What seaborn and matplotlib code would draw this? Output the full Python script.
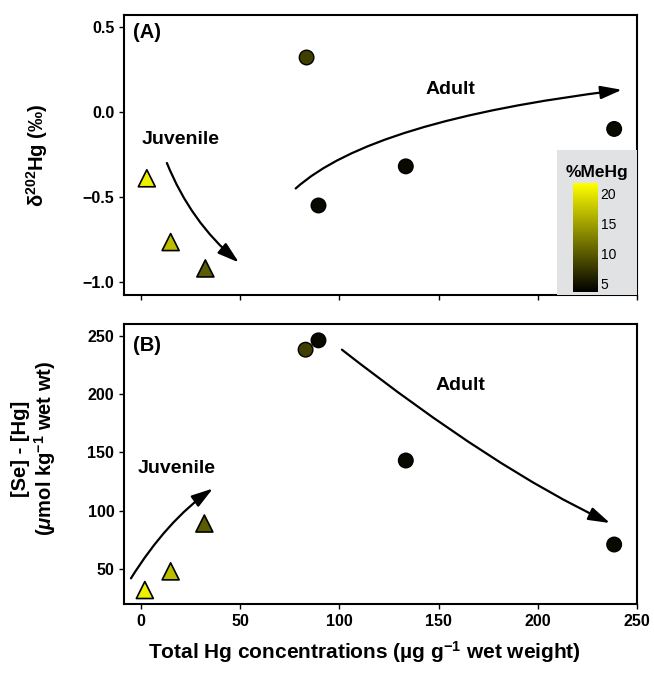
import numpy as np
import pandas as pd
import seaborn as sns
import matplotlib.pyplot as plt
from matplotlib.colors import LinearSegmentedColormap, Normalize
from matplotlib.cm import ScalarMappable
from matplotlib.patches import Rectangle

sns.set_style("ticks")
plt.rcParams["font.family"] = ["Liberation Sans", "DejaVu Sans"]
plt.rcParams["mathtext.fontset"] = "custom"
plt.rcParams["mathtext.rm"] = "Liberation Sans:bold"
plt.rcParams["mathtext.bf"] = "Liberation Sans:bold"
plt.rcParams["mathtext.it"] = "Liberation Sans:bold:italic"
plt.rcParams["mathtext.default"] = "bf"
for k in ["text.color", "axes.labelcolor", "xtick.color", "ytick.color", "axes.edgecolor"]:
    plt.rcParams[k] = "black"

# data
stage = ["Juvenile", "Juvenile", "Juvenile", "Adult", "Adult", "Adult", "Adult"]
thg = [3, 15, 32.5, 83.5, 89.5, 133.5, 238.5]
d202 = [-0.39, -0.765, -0.92, 0.32, -0.55, -0.32, -0.10]
thg_b = [2, 15, 32, 83, 89.5, 133.5, 238.5]
se_hg = [32, 48, 89, 238, 246, 143, 71]
mehg = [20.5, 17, 10, 8, 4.2, 4.2, 4.2]

df = pd.DataFrame({"stage": stage, "thg": thg, "d202": d202,
                   "thg_b": thg_b, "se_hg": se_hg, "mehg": mehg})

cmap = LinearSegmentedColormap.from_list("mehg", ["#000000", "#ffff00"])
norm = Normalize(3.5, 21.7)

fig = plt.figure(figsize=(6.54, 6.77), dpi=100)
axA = fig.add_axes([0.1896, 0.5643, 0.7844, 0.4136])
axB = fig.add_axes([0.1896, 0.1078, 0.7844, 0.4136])

def draw(ax, xcol, ycol):
    juv = df[df.stage == "Juvenile"]
    adu = df[df.stage == "Adult"]
    sns.scatterplot(data=juv, x=xcol, y=ycol, hue="mehg", palette=cmap, hue_norm=norm,
                    marker="^", s=150, edgecolor="black", linewidth=1.2, legend=False, ax=ax, zorder=3)
    sns.scatterplot(data=adu, x=xcol, y=ycol, hue="mehg", palette=cmap, hue_norm=norm,
                    marker="o", s=110, edgecolor="black", linewidth=1.0, legend=False, ax=ax, zorder=3)
    ax.set_xlim(-8.5, 250)
    ax.set_xticks([0, 50, 100, 150, 200, 250])
    for sp in ax.spines.values():
        sp.set_linewidth(1.5)
    ax.tick_params(direction="out", length=3.5, width=1, labelsize=11.5)

def arrow(ax, start, end, a1, a2):
    ax.annotate("", xy=end, xytext=start,
                arrowprops=dict(arrowstyle="-|>,head_length=1.3,head_width=0.4",
                                connectionstyle=f"angle3,angleA={a1},angleB={a2}",
                                color="black", lw=1.6, shrinkA=0, shrinkB=0))

# panel A
draw(axA, "thg", "d202")
axA.set_ylim(-1.076, 0.57)
axA.set_yticks([0.5, 0.0, -0.5, -1.0])
axA.set_yticklabels(["0.5", "0.0", "\u22120.5", "\u22121.0"])
axA.set_xticklabels([])
axA.set_xlabel("")
axA.set_ylabel("\u03b4$^{202}$Hg (\u2030)", fontsize=14.5, fontweight="bold")
axA.yaxis.set_label_coords(-0.144, 0.5)
axA.text(-4, 0.465, "(A)", fontsize=14.5, fontweight="bold", va="center")
axA.text(20.2, -0.165, "Juvenile", fontsize=14, fontweight="bold", ha="center", va="center")
axA.text(156, 0.13, "Adult", fontsize=14, fontweight="bold", ha="center", va="center")
arrow(axA, (13.1, -0.3), (49.4, -0.885), -68, -40)
arrow(axA, (78, -0.45), (242.4, 0.13), 42, 7)

# colorbar box
axA.add_patch(Rectangle((0.844, 0), 0.156, 0.518, transform=axA.transAxes,
                        facecolor="#e0e2e3", edgecolor="none", zorder=4))
cax = fig.add_axes([0.8761, 0.5687, 0.0382, 0.161], zorder=5)
cb = fig.colorbar(ScalarMappable(norm=norm, cmap=cmap), cax=cax, ticks=[5, 10, 15, 20])
cb.outline.set_visible(False)
cax.tick_params(left=True, right=True, labelleft=False, labelright=True,
                direction="in", color="white", length=3, width=1, labelsize=10, pad=2)
fig.text(597 / 654, 1 - 172 / 677, "%MeHg", fontsize=12.5, fontweight="bold",
         ha="center", va="center", zorder=6)

# panel B
draw(axB, "thg_b", "se_hg")
axB.set_ylim(20, 260)
axB.set_yticks([50, 100, 150, 200, 250])
for lab in axA.get_yticklabels() + axB.get_yticklabels() + axB.get_xticklabels():
    lab.set_fontweight("bold")
axB.set_xlabel("Total Hg concentrations (\u00b5g g$^{-1}$ wet weight)", fontsize=15,
               fontweight="bold")
axB.xaxis.set_label_coords(0.468, -0.127)
axB.set_ylabel("[Se] - [Hg]\n($\\mathit{\u03bc}$mol kg$^{-1}$ wet wt)", fontsize=14.5,
               fontweight="bold", linespacing=1.1)
axB.yaxis.set_label_coords(-0.129, 0.555)
axB.text(-4, 242, "(B)", fontsize=14.5, fontweight="bold", va="center")
axB.text(18, 136.5, "Juvenile", fontsize=14, fontweight="bold", ha="center", va="center")
axB.text(160.8, 207, "Adult", fontsize=14, fontweight="bold", ha="center", va="center")
arrow(axB, (-5, 42), (36.3, 119), 58, 35)
arrow(axB, (101.3, 238), (236.4, 89.4), -38, -25)

fig.savefig("out.png", dpi=100)
